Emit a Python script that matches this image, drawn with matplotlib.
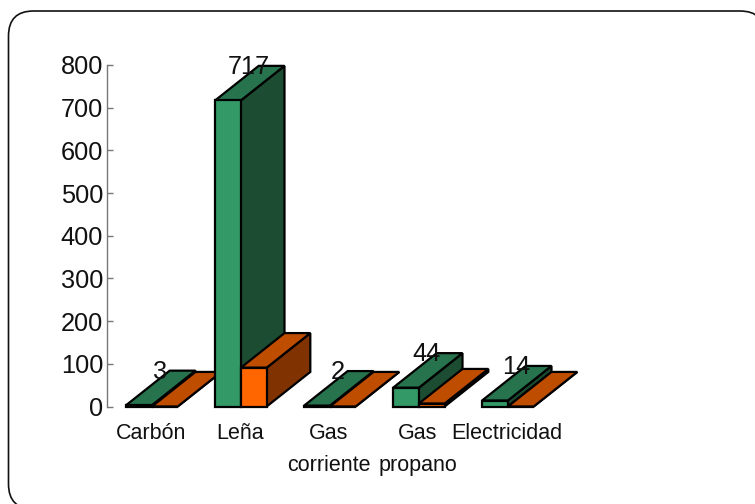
import matplotlib
matplotlib.use("Agg")
import matplotlib.pyplot as plt
from matplotlib.patches import FancyBboxPatch
from matplotlib.transforms import IdentityTransform

plt.rcParams['font.family'] = ['Liberation Sans', 'DejaVu Sans']

# data
categorias = ['Carbón', 'Leña', 'Gas\ncorriente', 'Gas\npropano', 'Electricidad']
verdes = [3, 717, 2, 44, 14]
naranjas = [0, 91, 0, 7, 0]
etiquetas_y = [0, 100, 200, 300, 400, 500, 600, 700, 800]

# colores: frente, arriba, lado
col_verde = ('#339966', '#26734D', '#1C4D33')
col_naranja = ('#FF6600', '#BF4D00', '#803300')

# 3d falso
ancho = 0.29
fondo_x = 0.49
fondo_y = 81
corrimiento = 0.01


def barra3d(ax, x, h, colores):
    frente, arriba, lado = colores
    borde = dict(edgecolor='black', linewidth=1.6, joinstyle='miter', clip_on=False)
    ax.fill([x + ancho, x + ancho + fondo_x, x + ancho + fondo_x, x + ancho],
            [0, fondo_y, h + fondo_y, h], facecolor=lado, **borde)
    ax.fill([x, x + ancho, x + ancho + fondo_x, x + fondo_x],
            [h, h, h + fondo_y, h + fondo_y], facecolor=arriba, **borde)
    ax.fill([x, x + ancho, x + ancho, x],
            [0, 0, h, h], facecolor=frente, **borde)


fig = plt.figure(figsize=(7.55, 5.04), dpi=100)
ax = fig.add_axes([106.5 / 755, 97.5 / 504, 445 / 755, 341.5 / 504])

for i in range(len(categorias)):
    barra3d(ax, i - ancho + corrimiento, verdes[i], col_verde)
    barra3d(ax, i + corrimiento, naranjas[i], col_naranja)
    ax.text(i - ancho / 2 + fondo_x / 2, verdes[i] + fondo_y - 3, str(verdes[i]),
            ha='center', va='center', fontsize=18.3, color='#111111', zorder=10)

ax.set_xlim(-0.5, 4.5)
ax.set_ylim(0, 800)
ax.set_xticks(range(len(categorias)))
ax.set_xticklabels(categorias, fontsize=15.5, color='#111111', linespacing=1.68)
ax.set_yticks(etiquetas_y)
ax.tick_params(axis='x', length=0, pad=12)
ax.tick_params(axis='y', direction='in', length=4.5, width=1, color='#777777',
               labelsize=18.3, labelcolor='#111111', pad=2.5)
for lado in ['top', 'right', 'bottom']:
    ax.spines[lado].set_visible(False)
ax.spines['left'].set_color('#777777')
ax.spines['left'].set_linewidth(1)

# marco redondeado, se sale por la derecha y por abajo
marco = FancyBboxPatch((8.5, -5), 756.5, 498, boxstyle='round,pad=0,rounding_size=25',
                       facecolor='white', edgecolor='#111111', linewidth=1.2,
                       transform=IdentityTransform(), zorder=-1)
fig.add_artist(marco)

fig.savefig('out.png', dpi=100)
